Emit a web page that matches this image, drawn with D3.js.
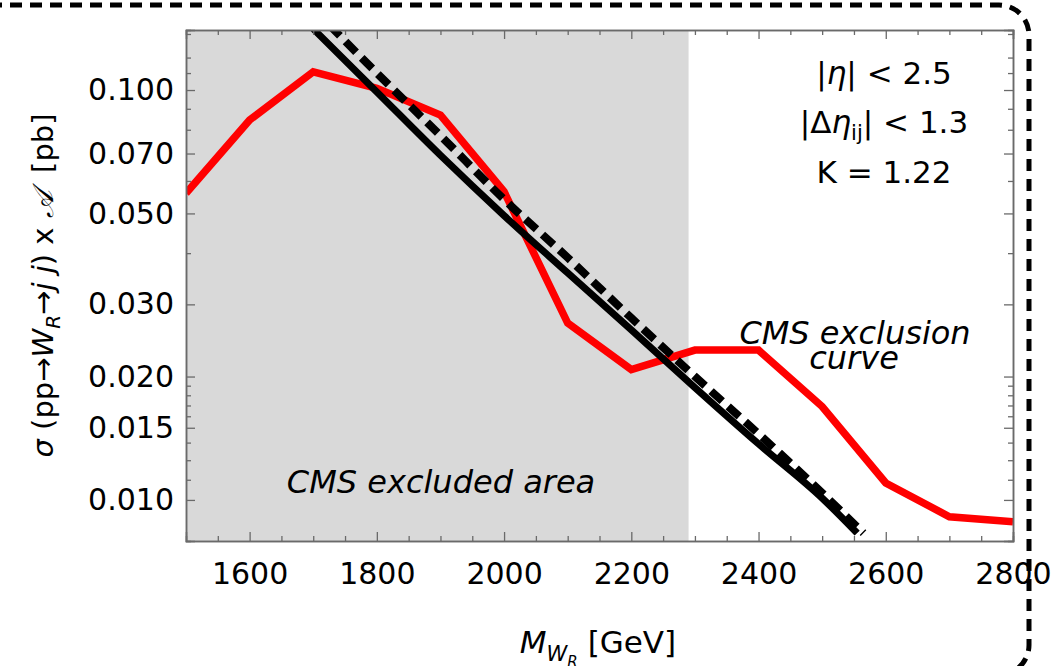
<!DOCTYPE html>
<html>
<head>
<meta charset="utf-8">
<script src="https://cdn.jsdelivr.net/npm/d3@7"></script>
<style>
  body { margin: 0; background: #fff; }
  svg text { font-family: "DejaVu Sans", sans-serif; fill: #000; white-space: pre; }
</style>
</head>
<body>
<div id="chart"></div>
<script>
// data
const massGeV = [1500, 1600, 1700, 1800, 1900, 2000, 2100, 2200, 2300, 2400, 2500, 2600, 2700, 2800];
const cmsLimit = [0.056, 0.0845, 0.1108, 0.101, 0.0869, 0.0565, 0.027, 0.0208, 0.0232, 0.0232, 0.0169, 0.011, 0.0091, 0.00885];

const solidMass = [1700, 1800, 1900, 2000, 2100, 2200, 2300, 2400, 2500, 2555];
const solidXsec = [0.141, 0.0989, 0.0693, 0.0494, 0.0358, 0.026, 0.0188, 0.0137, 0.0101, 0.0083];

const dashedMass = [1700, 1800, 1900, 2000, 2100, 2200, 2300, 2400, 2500, 2565];
const dashedXsec = [0.158, 0.110, 0.0774, 0.0541, 0.039, 0.0278, 0.020, 0.0145, 0.0104, 0.0083];

const excludedUpTo = 2290;

const xMajor = [1600, 1800, 2000, 2200, 2400, 2600, 2800];
const xMinor = d3.range(1550, 2800, 50).filter(v => v % 200 != 0);
const yMajor = [0.01, 0.015, 0.02, 0.03, 0.05, 0.07, 0.1];
const yMajorLabels = ["0.010", "0.015", "0.020", "0.030", "0.050", "0.070", "0.100"];
const yMinor = [0.0112, 0.0125, 0.0138, 0.016, 0.017, 0.018, 0.019, 0.04, 0.06, 0.08, 0.09, 0.11, 0.12, 0.137];

const width = 1064, height = 666;
const margin = {top: 30, right: 51, bottom: 125, left: 186};
const w = width - margin.left - margin.right;
const h = height - margin.top - margin.bottom;

let svg = d3.select("#chart").append("svg")
    .attr("width", width)
    .attr("height", height);

// dashed rounded frame around the figure
svg.append("rect")
    .attr("x", -100).attr("y", 5)
    .attr("width", 1129).attr("height", 670)
    .attr("rx", 30).attr("ry", 30)
    .attr("fill", "none")
    .attr("stroke", "#000")
    .attr("stroke-width", 5)
    .attr("stroke-dasharray", "12,8");

let g = svg.append("g")
    .attr("transform", "translate(" + margin.left + "," + margin.top + ")");

let x = d3.scaleLinear().domain([1500, 2800]).range([0, w]);
let y = d3.scaleLog().domain([0.00794, 0.1401]).range([h, 0]);

g.append("clipPath").attr("id", "plotclip")
  .append("rect").attr("width", w).attr("height", h);

// excluded area
g.append("rect")
    .attr("x", 0).attr("y", 0)
    .attr("width", x(excludedUpTo))
    .attr("height", h)
    .attr("fill", "#d9d9d9");

let line = d3.line().x(d => x(d[0])).y(d => y(d[1]));
let smooth = d3.line().curve(d3.curveMonotoneX).x(d => x(d[0])).y(d => y(d[1]));

let lines = g.append("g").attr("clip-path", "url(#plotclip)");

lines.append("path")
    .datum(d3.zip(massGeV, cmsLimit))
    .attr("d", line)
    .attr("fill", "none")
    .attr("stroke", "#ff0000")
    .attr("stroke-width", 7.5);

lines.append("path")
    .datum(d3.zip(solidMass, solidXsec))
    .attr("d", smooth)
    .attr("fill", "none")
    .attr("stroke", "#000")
    .attr("stroke-width", 7);

lines.append("path")
    .datum(d3.zip(dashedMass, dashedXsec))
    .attr("d", smooth)
    .attr("fill", "none")
    .attr("stroke", "#000")
    .attr("stroke-width", 8)
    .attr("stroke-dasharray", "15,8");

// frame axes, ticks pointing inward
function styleAxis(sel) {
    sel.select(".domain").attr("stroke", "#6a6a6a").attr("stroke-width", 1.5);
    sel.selectAll(".tick line").attr("stroke", "#6a6a6a").attr("stroke-width", 1.3);
    sel.selectAll("text").style("font-family", "DejaVu Sans").style("font-size", "30px").attr("fill", "#000");
}

g.append("g").attr("transform", "translate(0," + h + ")")
    .call(d3.axisBottom(x).tickValues(xMinor).tickSize(-5).tickFormat("")).call(styleAxis);
g.append("g").attr("transform", "translate(0," + h + ")")
    .call(d3.axisBottom(x).tickValues(xMajor).tickSize(-9).tickPadding(22).tickFormat(d3.format("d")))
    .call(styleAxis);
g.append("g")
    .call(d3.axisTop(x).tickValues(xMinor).tickSize(-5).tickFormat("")).call(styleAxis);
g.append("g")
    .call(d3.axisTop(x).tickValues(xMajor).tickSize(-9).tickFormat("")).call(styleAxis);

g.append("g")
    .call(d3.axisLeft(y).tickValues(yMinor).tickSize(-5).tickFormat("")).call(styleAxis);
g.append("g")
    .call(d3.axisLeft(y).tickValues(yMajor).tickSize(-9).tickPadding(12)
        .tickFormat((d, i) => yMajorLabels[i]))
    .call(styleAxis);
g.append("g").attr("transform", "translate(" + w + ",0)")
    .call(d3.axisRight(y).tickValues(yMinor).tickSize(-5).tickFormat("")).call(styleAxis);
g.append("g").attr("transform", "translate(" + w + ",0)")
    .call(d3.axisRight(y).tickValues(yMajor).tickSize(-9).tickFormat("")).call(styleAxis);

// annotations
svg.append("text")
    .attr("x", 441).attr("y", 493)
    .style("font-size", "32px").style("font-style", "italic")
    .attr("text-anchor", "middle")
    .text("CMS excluded area");

svg.append("text")
    .attr("x", 855).attr("y", 344)
    .style("font-size", "32px").style("font-style", "italic")
    .attr("text-anchor", "middle")
    .text("CMS exclusion");
svg.append("text")
    .attr("x", 854).attr("y", 369)
    .style("font-size", "32px").style("font-style", "italic")
    .attr("text-anchor", "middle")
    .text("curve");

let cut1 = svg.append("text").attr("x", 884).attr("y", 84)
    .attr("text-anchor", "middle").style("font-size", "31px");
cut1.append("tspan").text("|");
cut1.append("tspan").style("font-style", "italic").text("η");
cut1.append("tspan").text("| < 2.5");

let cut2 = svg.append("text").attr("x", 884).attr("y", 133)
    .attr("text-anchor", "middle").style("font-size", "31px");
cut2.append("tspan").text("|Δ");
cut2.append("tspan").style("font-style", "italic").text("η");
cut2.append("tspan").attr("dy", 7).style("font-size", "21px").text("ij");
cut2.append("tspan").attr("dy", -7).text("| < 1.3");

svg.append("text").attr("x", 884).attr("y", 183)
    .attr("text-anchor", "middle").style("font-size", "31px")
    .text("K = 1.22");

// axis titles
let xt = svg.append("text")
    .attr("x", 598).attr("y", 653)
    .attr("text-anchor", "middle")
    .style("font-size", "31px");
xt.append("tspan").style("font-style", "italic").text("M");
xt.append("tspan").attr("dy", 8).style("font-size", "21px").style("font-style", "italic").text("W");
xt.append("tspan").attr("dy", 6).style("font-size", "15px").style("font-style", "italic").text("R");
xt.append("tspan").attr("dy", -14).text(" [GeV]");

let yt = svg.append("text")
    .attr("transform", "translate(53," + (margin.top + h / 2) + ") rotate(-90)")
    .attr("text-anchor", "middle")
    .style("font-size", "29px");
yt.append("tspan").style("font-style", "italic").text("σ");
yt.append("tspan").text(" (pp→");
yt.append("tspan").style("font-style", "italic").text("W");
yt.append("tspan").attr("dy", 7).style("font-size", "20px").style("font-style", "italic").text("R");
yt.append("tspan").attr("dy", -7).text("→");
yt.append("tspan").style("font-style", "italic").text("j j");
yt.append("tspan").text(") x ");
yt.append("tspan").style("font-style", "italic").text("𝒜");
yt.append("tspan").text("\u00a0\u00a0[pb]");
</script>
</body>
</html>
